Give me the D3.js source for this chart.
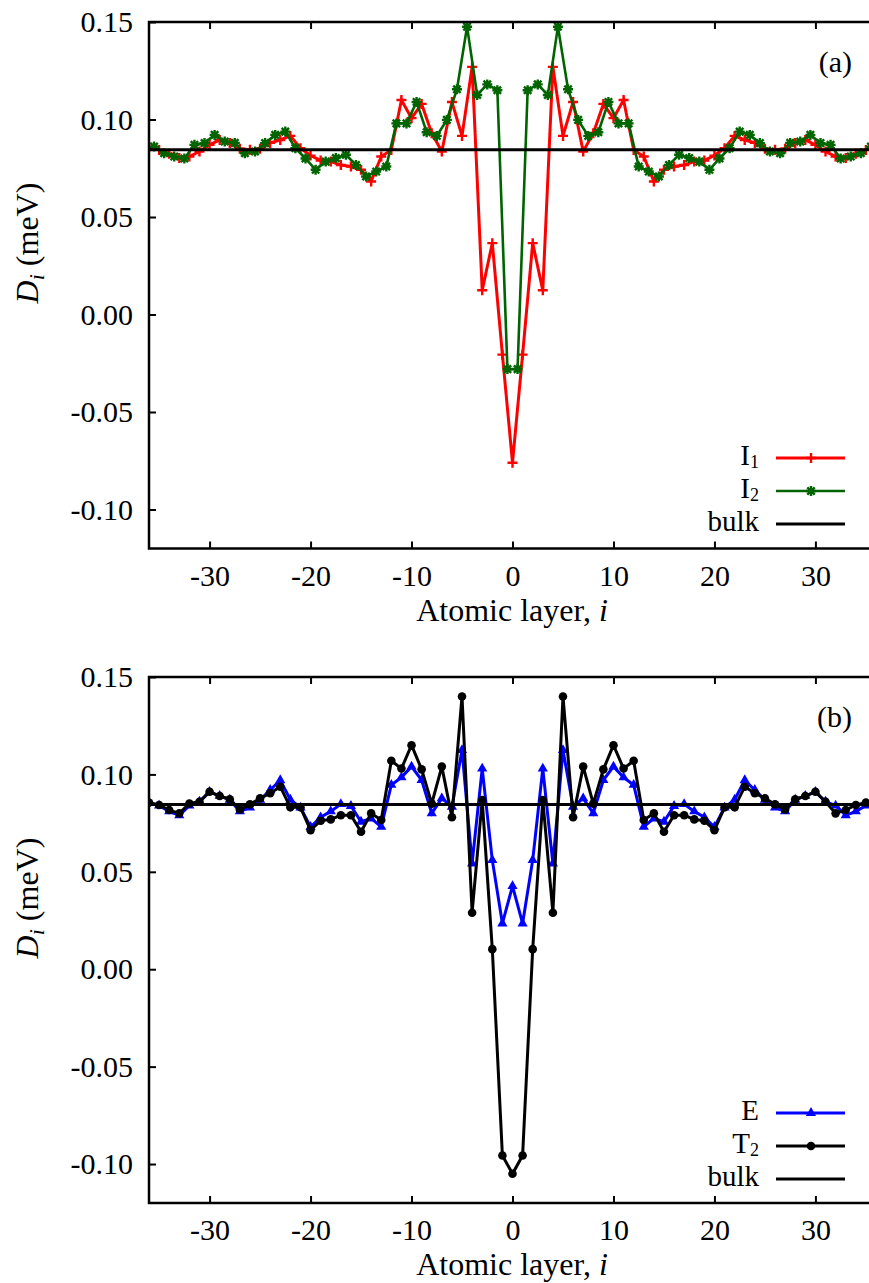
<!DOCTYPE html>
<html><head><meta charset="utf-8">
<script src="https://cdn.jsdelivr.net/npm/d3@7"></script>
<style>
html,body{margin:0;padding:0;background:#fff;}
svg{display:block;}
text{font-family:"Liberation Serif","DejaVu Serif",serif;fill:#000;}
</style></head>
<body>
<svg id="chart" width="869" height="1283"></svg>
<script>
// ---------- data ----------
const xTicks = [-30, -20, -10, 0, 10, 20, 30];
const yTicks = [-0.10, -0.05, 0.00, 0.05, 0.10, 0.15];
const bulk = 0.0845;

const layersInt = [-36,-35,-34,-33,-32,-31,-30,-29,-28,-27,-26,-25,-24,-23,-22,-21,-20,-19,-18,-17,-16,-15,-14,-13,-12,-11,-10,-9,-8,-7,-6,-5,-4,-3,-2,-1,0,
  1,2,3,4,5,6,7,8,9,10,11,12,13,14,15,16,17,18,19,20,21,22,23,24,25,26,27,28,29,30,31,32,33,34,35,36];
const layersHalf = [-35.5,-34.5,-33.5,-32.5,-31.5,-30.5,-29.5,-28.5,-27.5,-26.5,-25.5,-24.5,-23.5,-22.5,-21.5,-20.5,-19.5,-18.5,-17.5,-16.5,-15.5,-14.5,-13.5,-12.5,-11.5,-10.5,-9.5,-8.5,-7.5,-6.5,-5.5,-4.5,-3.5,-2.5,-1.5,-0.5,
  0.5,1.5,2.5,3.5,4.5,5.5,6.5,7.5,8.5,9.5,10.5,11.5,12.5,13.5,14.5,15.5,16.5,17.5,18.5,19.5,20.5,21.5,22.5,23.5,24.5,25.5,26.5,27.5,28.5,29.5,30.5,31.5,32.5,33.5,34.5,35.5];

// panel (a): I1 at integer layers
const I1 = [0.0858,0.0844,0.0824,0.0802,0.081,0.0836,0.087,0.0895,0.088,0.085,0.0845,0.085,0.088,0.0895,0.0916,0.0853,0.0815,0.079,0.0784,0.0767,0.0759,0.0742,0.0682,0.081,0.0844,0.110,0.1007,0.108,0.093,0.0836,0.109,0.0916,0.127,0.0124,0.0366,-0.0206,-0.076,
  -0.0206,0.0366,0.0124,0.127,0.0916,0.109,0.0836,0.093,0.108,0.1007,0.110,0.0844,0.081,0.0682,0.0742,0.0759,0.0767,0.0784,0.079,0.0815,0.0853,0.0916,0.0895,0.088,0.085,0.0845,0.085,0.088,0.0895,0.087,0.0836,0.081,0.0802,0.0824,0.0844,0.0858];
// panel (a): I2 at half-integer layers
const I2 = [0.0861,0.0827,0.081,0.080,0.087,0.0879,0.0921,0.0887,0.0880,0.0827,0.0836,0.0879,0.0921,0.0938,0.0853,0.0800,0.0742,0.0784,0.0802,0.0819,0.0767,0.0708,0.0733,0.0759,0.098,0.098,0.109,0.0935,0.0916,0.0998,0.1155,0.1476,0.1126,0.118,0.115,-0.028,
  -0.028,0.115,0.118,0.1126,0.1476,0.1155,0.0998,0.0916,0.0935,0.109,0.098,0.098,0.0759,0.0733,0.0708,0.0767,0.0819,0.0802,0.0784,0.0742,0.0800,0.0853,0.0938,0.0921,0.0879,0.0836,0.0827,0.0880,0.0887,0.0921,0.0879,0.087,0.080,0.081,0.0827,0.0861];
// panel (b): E and T2 at integer layers
const E = [0.0855,0.084,0.081,0.079,0.084,0.086,0.091,0.089,0.087,0.081,0.083,0.087,0.092,0.097,0.087,0.083,0.073,0.078,0.081,0.0848,0.0838,0.0757,0.0774,0.0731,0.0946,0.0985,0.104,0.0971,0.080,0.0877,0.0834,0.1125,0.0543,0.103,0.056,0.0235,0.0427,
  0.0235,0.056,0.103,0.0543,0.1125,0.0834,0.0877,0.080,0.0971,0.104,0.0985,0.0946,0.0731,0.0774,0.0757,0.0838,0.0848,0.081,0.078,0.073,0.083,0.087,0.097,0.092,0.087,0.083,0.081,0.087,0.089,0.091,0.086,0.084,0.079,0.081,0.084,0.0855];
const T2 = [0.0855,0.0843,0.0817,0.080,0.0851,0.086,0.0911,0.0889,0.0872,0.082,0.0846,0.0877,0.0903,0.0937,0.0831,0.0831,0.0714,0.0762,0.0769,0.079,0.079,0.0706,0.080,0.0766,0.107,0.103,0.115,0.1026,0.085,0.104,0.078,0.140,0.029,0.0868,0.0103,-0.0956,-0.105,
  -0.0956,0.0103,0.0868,0.029,0.140,0.078,0.104,0.085,0.1026,0.115,0.103,0.107,0.0766,0.080,0.0706,0.079,0.079,0.0769,0.0762,0.0714,0.0831,0.0831,0.0937,0.0903,0.0877,0.0846,0.082,0.0872,0.0889,0.0911,0.086,0.080,0.0817,0.0843,0.0855];

// ---------- drawing ----------
const svg = d3.select("#chart");
const FONT = "Liberation Serif";
const FS = 30;   // tick labels / panel labels
const FT = 32;   // axis titles
const FL = 29;   // legend
const x = d3.scaleLinear().domain([-36, 36]).range([149, 876]);

const markers = {
  plus: "M-5,0H5M0,-5V5",
  star: "M-5,0H5M0,-5V5M-3.7,-3.7L3.7,3.7M-3.7,3.7L3.7,-3.7",
  tri: d3.symbol(d3.symbolTriangle, 45)(),
  circ: d3.symbol(d3.symbolCircle, 58)()
};

function panel(cfg) {
  const y = d3.scaleLinear().domain([-0.12, 0.15]).range([cfg.bottom, cfg.top]);
  const g = svg.append("g");
  const clipId = "clip" + cfg.id;
  svg.append("clipPath").attr("id", clipId).append("rect")
    .attr("x", 149).attr("y", cfg.top).attr("width", 876 - 149).attr("height", cfg.bottom - cfg.top);

  const plot = g.append("g").attr("clip-path", `url(#${clipId})`);
  cfg.series.forEach(s => {
    const pts = s.xs.map((xv, i) => [xv, s.ys[i]]);
    plot.append("path").datum(pts)
      .attr("fill", "none").attr("stroke", s.color).attr("stroke-width", s.lw)
      .attr("stroke-linejoin", "miter")
      .attr("d", d3.line().x(d => x(d[0])).y(d => y(d[1])));
    plot.selectAll(null).data(pts).join("path")
      .attr("transform", d => `translate(${x(d[0])},${y(d[1])})`)
      .attr("d", markers[s.marker])
      .attr("fill", s.fillMarker ? s.color : "none")
      .attr("stroke", s.color).attr("stroke-width", s.fillMarker ? 0 : 2.4);
  });
  // bulk line
  plot.append("line").attr("x1", x(-36)).attr("x2", x(36))
    .attr("y1", y(bulk)).attr("y2", y(bulk))
    .attr("stroke", "#000").attr("stroke-width", 3);

  // axes
  const ax = [
    g.append("g").attr("transform", `translate(0,${cfg.bottom})`).call(d3.axisBottom(x).tickValues(xTicks).tickSize(-7).tickPadding(16).tickFormat(d => String(d))),
    g.append("g").attr("transform", `translate(0,${cfg.top})`).call(d3.axisTop(x).tickValues(xTicks).tickSize(-7).tickFormat("")),
    g.append("g").attr("transform", `translate(149,0)`).call(d3.axisLeft(y).tickValues(yTicks).tickSize(-7).tickPadding(16).tickFormat(d => d.toFixed(2))),
    g.append("g").attr("transform", `translate(876,0)`).call(d3.axisRight(y).tickValues(yTicks).tickSize(-7).tickFormat(""))
  ];
  ax.forEach(a => {
    a.select(".domain").remove();
    a.selectAll("line").attr("stroke", "#000").attr("stroke-width", 2);
    a.selectAll("text").attr("font-size", FS).attr("font-family", FONT);
  });
  g.append("rect").attr("x", 149).attr("y", cfg.top).attr("width", 876 - 149).attr("height", cfg.bottom - cfg.top)
    .attr("fill", "none").attr("stroke", "#000").attr("stroke-width", 2.5);

  // panel label
  g.append("text").attr("x", 852).attr("y", cfg.top + 50).attr("text-anchor", "end")
    .attr("font-size", FS).text(cfg.label);

  // axis titles
  const xt = g.append("text").attr("x", 512).attr("y", cfg.bottom + 72).attr("text-anchor", "middle").attr("font-size", FT);
  xt.append("tspan").text("Atomic layer, ");
  xt.append("tspan").attr("font-style", "italic").text("i");
  const yt = g.append("text").attr("transform", `translate(38,${cfg.top + 221}) rotate(-90)`)
    .attr("text-anchor", "middle").attr("font-size", FT);
  yt.append("tspan").attr("font-style", "italic").text("D");
  yt.append("tspan").attr("font-style", "italic").attr("font-size", 22).attr("dy", 6).text("i");
  yt.append("tspan").attr("dy", -6).text(" (meV)");

  // legend
  const lg = g.append("g");
  cfg.legend.forEach((l, k) => {
    const ly = cfg.legendTop + k * 33;
    const t = lg.append("text").attr("x", 759).attr("y", ly + 7).attr("text-anchor", "end").attr("font-size", FL);
    t.append("tspan").text(l.name);
    if (l.sub) t.append("tspan").attr("font-size", 18).attr("dy", 3).text(l.sub);
    lg.append("line").attr("x1", 776).attr("x2", 845).attr("y1", ly).attr("y2", ly)
      .attr("stroke", l.color).attr("stroke-width", l.lw);
    if (l.marker) lg.append("path").attr("transform", `translate(811,${ly})`).attr("d", markers[l.marker])
      .attr("fill", l.fillMarker ? l.color : "none").attr("stroke", l.color).attr("stroke-width", l.fillMarker ? 0 : 2.4);
  });
}

panel({
  id: "a", top: 22, bottom: 548.5, label: "(a)", legendTop: 458,
  series: [
    { xs: layersInt, ys: I1, color: "#ff0000", lw: 3, marker: "plus" },
    { xs: layersHalf, ys: I2, color: "#006400", lw: 2.6, marker: "star" }
  ],
  legend: [
    { name: "I", sub: "1", color: "#ff0000", lw: 3, marker: "plus" },
    { name: "I", sub: "2", color: "#006400", lw: 2.6, marker: "star" },
    { name: "bulk", color: "#000", lw: 3 }
  ]
});
panel({
  id: "b", top: 677, bottom: 1203, label: "(b)", legendTop: 1113,
  series: [
    { xs: layersInt, ys: E, color: "#0000ff", lw: 3, marker: "tri", fillMarker: true },
    { xs: layersInt, ys: T2, color: "#000000", lw: 3, marker: "circ", fillMarker: true }
  ],
  legend: [
    { name: "E", color: "#0000ff", lw: 3, marker: "tri", fillMarker: true },
    { name: "T", sub: "2", color: "#000", lw: 3, marker: "circ", fillMarker: true },
    { name: "bulk", color: "#000", lw: 3 }
  ]
});
</script>
</body></html>
